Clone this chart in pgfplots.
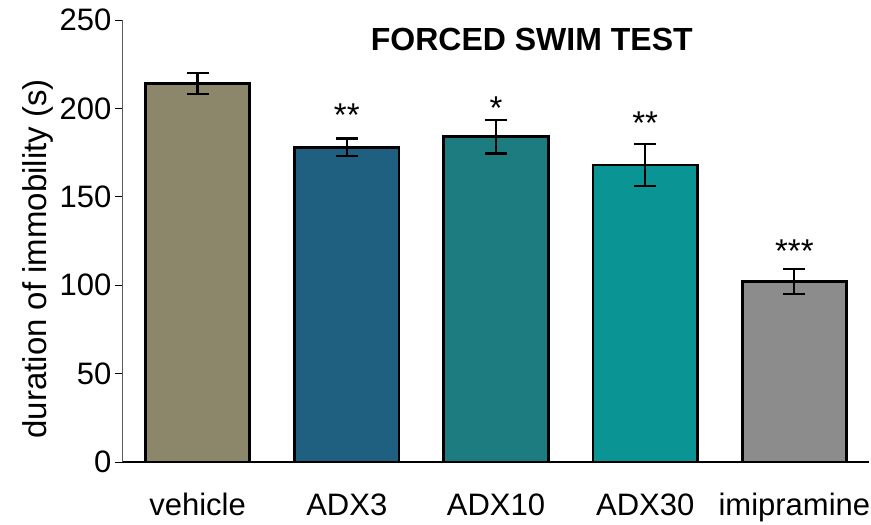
\documentclass[border=0pt]{standalone}
\usepackage{fontspec}
\setmainfont{Liberation Sans}
\usepackage{pgfplots}
\pgfplotsset{compat=1.18}

\definecolor{cveh}{HTML}{8C866A}
\definecolor{cadx3}{HTML}{1F5F80}
\definecolor{cadx10}{HTML}{1C7C80}
\definecolor{cadx30}{HTML}{0A9494}
\definecolor{cimi}{HTML}{8C8C8C}

\newcommand{\tickf}{\fontsize{31}{36}\selectfont}
\newcommand{\labf}{\fontsize{33}{38}\selectfont}

\begin{document}
\begin{tikzpicture}
\useasboundingbox (-123pt,-63pt) rectangle (748pt,462pt);
\begin{axis}[
  at={(0,0)}, anchor=south west,
  scale only axis,
  width=746pt, height=442pt,
  axis lines*=left,
  axis line style={line width=1pt},
  x axis line style={black, line width=1.2pt},
  y axis line style={gray!70!black},
  xmin=-0.5, xmax=4.5,
  ymin=0, ymax=250,
  ytick={0,50,100,150,200,250},
  xtick={0,1,2,3,4},
  xticklabels={vehicle,ADX3,ADX10,ADX30,imipramine},
  extra x ticks={-0.5,0.5,1.5,2.5,3.5,4.5},
  extra x tick labels={},
  extra x tick style={major tick length=9pt, tick style={black, line width=1pt}},
  x tick style={draw=none},
  tick align=outside,
  major tick length=8pt,
  y tick style={black, line width=0.8pt},
  tick label style={font=\tickf},
  /pgf/number format/assume math mode=true,
  xticklabel style={yshift=-20pt},
  ylabel={duration of immobility (s)},
  ylabel style={font=\labf, at={(ticklabel cs:0.46)}},
  clip=false,
]
\pgfplotsset{every axis plot/.append style={
  ybar, bar width=0.7, bar shift=0pt, draw=black, line width=2.8pt,
  error bars/y dir=both, error bars/y explicit,
  error bars/error bar style={line width=2.2pt, black},
  error bars/error mark options={rotate=90, mark size=11pt, line width=2.2pt, black}}}
\addplot[fill=cveh] coordinates {(0,214) +- (0,6)};
\addplot[fill=cadx3] coordinates {(1,178) +- (0,5)};
\addplot[fill=cadx10] coordinates {(2,184) +- (0,9.5)};
\addplot[fill=cadx30] coordinates {(3,168) +- (0,12)};
\addplot[fill=cimi] coordinates {(4,102) +- (0,7)};
\node[font=\labf, anchor=base] at (axis cs:1,190) {**};
\node[font=\labf, anchor=base] at (axis cs:2,194) {*};
\node[font=\labf, anchor=base] at (axis cs:3,185) {**};
\node[font=\labf, anchor=base] at (axis cs:4,113) {***};
\node[font=\bfseries\fontsize{32}{36}\selectfont] at (rel axis cs:0.548,0.955) {FORCED SWIM TEST};
\end{axis}
\end{tikzpicture}
\end{document}
